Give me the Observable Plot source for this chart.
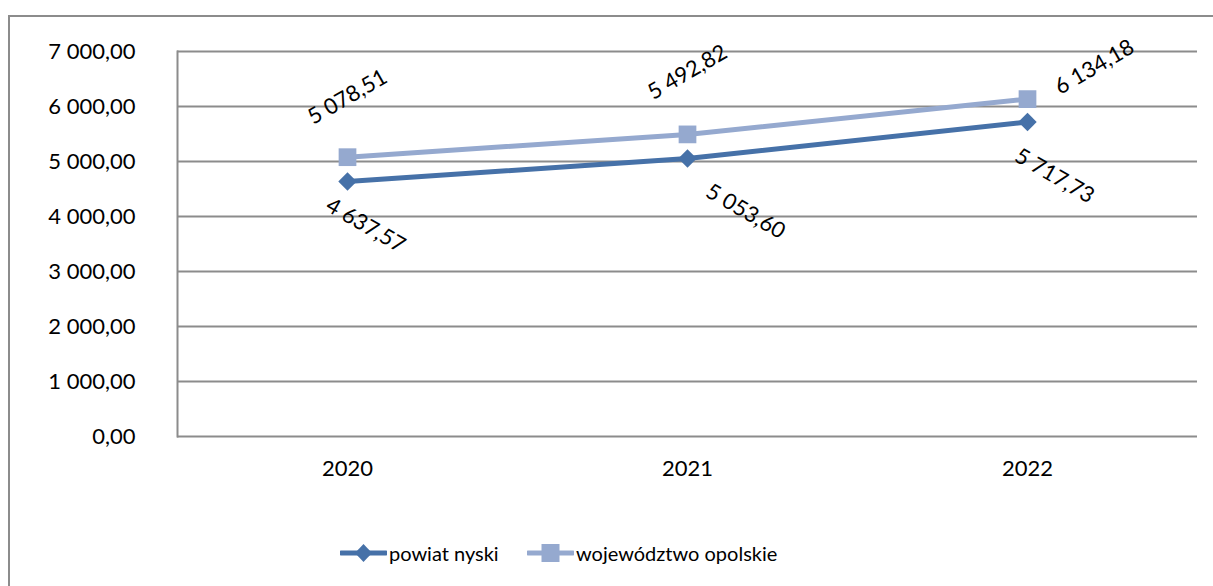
<!DOCTYPE html>
<html>
<head>
<meta charset="utf-8">
<script src="https://cdn.jsdelivr.net/npm/d3@7"></script>
<script src="https://cdn.jsdelivr.net/npm/@observablehq/plot@0.6"></script>
<style>
  html, body { margin: 0; padding: 0; background: #fff; overflow: hidden; }
  body { width: 1213px; height: 586px; position: relative; font-family: Lato, "Open Sans", sans-serif; }
  #frame { position: absolute; left: 8px; top: 15px; width: 1230px; height: 600px; border: 2px solid #8c8c8c; box-sizing: border-box; }
  #chart { position: absolute; left: 0; top: 0; }
  #legend { position: absolute; top: 538px; left: 0; width: 1213px; font-size: 20px; color: #000; }
  .item { position: absolute; display: flex; align-items: center; }
  .item svg { display: block; }
</style>
</head>
<body>
<div id="frame"></div>
<div id="chart"></div>
<div id="legend"></div>
<script>
// ---- data ----
const years = ["2020", "2021", "2022"];
const seriesNames = ["powiat nyski", "województwo opolskie"];
const powiatNyski = [4637.57, 5053.60, 5717.73];
const wojewodztwoOpolskie = [5078.51, 5492.82, 6134.18];
const yTicks = [0, 1000, 2000, 3000, 4000, 5000, 6000, 7000];

// ---- styling ----
const colors = ["#4671a8", "#95a9cf"];
const fontSize = 22;
const locale = d3.formatLocale({decimal: ",", thousands: " ", grouping: [3], currency: ["", ""]});
const fmt = locale.format(",.2f");

const rows = [];
years.forEach((y, i) => {
  rows.push({year: y, value: powiatNyski[i], series: seriesNames[0], i});
  rows.push({year: y, value: wojewodztwoOpolskie[i], series: seriesNames[1], i});
});
const pRows = rows.filter(d => d.series === seriesNames[0]);
const wRows = rows.filter(d => d.series === seriesNames[1]);

// label offsets (pixels) replicating the original placement
const pOff = [[18, 44], [58, 53], [27, 54]];
const wOff = [[0, -60], [0, -62], [67, -32]];

const labelMarks = [];
pRows.forEach((d, k) => labelMarks.push(Plot.text([d], {
  x: "year", y: "value", text: d => fmt(d.value), rotate: 30,
  dx: pOff[k][0], dy: pOff[k][1], fontSize, fill: "#000", textAnchor: "middle", lineAnchor: "middle"
})));
wRows.forEach((d, k) => labelMarks.push(Plot.text([d], {
  x: "year", y: "value", text: d => fmt(d.value), rotate: -30,
  dx: wOff[k][0], dy: wOff[k][1], fontSize, fill: "#000", textAnchor: "middle", lineAnchor: "middle"
})));

const chart = Plot.plot({
  width: 1213,
  height: 510,
  marginLeft: 177,
  marginRight: 16,
  marginTop: 51,
  marginBottom: 74,
  style: {fontFamily: "Lato, 'Open Sans', sans-serif", fontSize: fontSize + "px", color: "#000", background: "transparent", overflow: "visible"},
  x: {type: "point", domain: years, padding: 0.5, label: null, tickSize: 0, tickPadding: 24},
  y: {domain: [0, 7000], ticks: yTicks, tickFormat: fmt, label: null, tickSize: 0, tickPadding: 42},
  marks: [
    Plot.ruleY(yTicks, {stroke: "#8c8c8c", strokeWidth: 2, strokeOpacity: 1}),
    Plot.frame({anchor: "left", stroke: "#8c8c8c", strokeWidth: 2, strokeOpacity: 1}),
    Plot.line(wRows, {x: "year", y: "value", stroke: colors[1], strokeWidth: 5}),
    Plot.line(pRows, {x: "year", y: "value", stroke: colors[0], strokeWidth: 5}),
    Plot.dot(wRows, {x: "year", y: "value", symbol: "square", r: 10, fill: colors[1], stroke: "none"}),
    Plot.dot(pRows, {x: "year", y: "value", symbol: "diamond2", r: 8.3, fill: colors[0], stroke: "none"}),
    ...labelMarks
  ]
});
document.getElementById("chart").appendChild(chart);

// ---- legend ----
const legend = document.getElementById("legend");
const items = [
  {name: seriesNames[0], color: colors[0], shape: "diamond", left: 340},
  {name: seriesNames[1], color: colors[1], shape: "square", left: 527}
];
items.forEach(it => {
  const div = document.createElement("div");
  div.className = "item";
  div.style.left = it.left + "px";
  div.style.top = "0px";
  const s = d3.create("svg").attr("width", 47).attr("height", 30);
  s.append("line").attr("x1", 1).attr("x2", 46).attr("y1", 15).attr("y2", 15)
    .attr("stroke", it.color).attr("stroke-width", 5).attr("stroke-linecap", "round");
  if (it.shape === "diamond") {
    s.append("path").attr("d", "M23.5,6 L32,15 L23.5,24 L15,15 Z").attr("fill", it.color);
  } else {
    s.append("rect").attr("x", 14.5).attr("y", 6).attr("width", 18).attr("height", 18).attr("fill", it.color);
  }
  div.appendChild(s.node());
  const t = document.createElement("span");
  t.textContent = it.name;
  t.style.marginLeft = "2px";
  div.appendChild(t);
  legend.appendChild(div);
});
</script>
</body>
</html>
